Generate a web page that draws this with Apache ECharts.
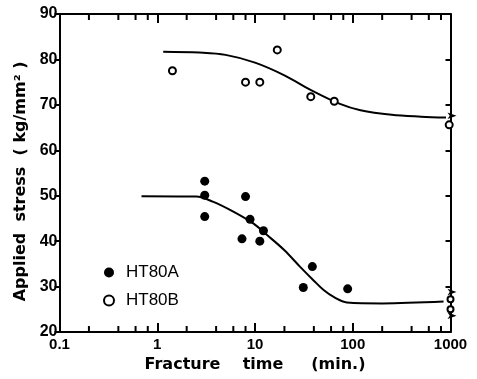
<!DOCTYPE html>
<html><head><meta charset="utf-8">
<script src="https://cdn.jsdelivr.net/npm/echarts@6/dist/echarts.min.js"></script>
<style>html,body{margin:0;padding:0;background:#fff}#c{width:477px;height:379px}</style>
</head><body><div id="c"></div>
<script>
// HT80A (filled circles): fracture time (min), applied stress (kg/mm2)
const ht80aTime   = [3.06, 3.06, 3.06, 8.0, 7.36, 8.9, 11.2, 12.2, 31.2, 38.6, 88.7];
const ht80aStress = [53.2, 50.1, 45.4, 49.8, 40.5, 44.8, 40.0, 42.3, 29.8, 34.4, 29.5];
// HT80B (open circles)
const ht80bTime   = [1.43, 8.0, 11.2, 16.9, 37.2, 64.7, 970];
const ht80bStress = [77.5, 75.0, 75.0, 82.1, 71.8, 70.8, 65.6];
// unbroken specimens at 1000 min (open circles) and their run-out arrows
const runTime     = [1000, 1000];
const runStress   = [27.2, 25.0];
const arrowTime   = [1000, 1000, 1000];
const arrowStress = [67.6, 28.8, 23.6];
// fitted curves
const curveATime   = [0.69, 2.5, 3.7, 6, 9.6, 13.2, 20, 28.8, 40, 50, 65, 87, 200, 850];
const curveAStress = [49.9, 49.8, 48.7, 46.5, 43.9, 41.4, 38.0, 34.4, 31.3, 29.3, 27.6, 26.5, 26.3, 26.7];
const curveBTime   = [1.15, 2.7, 5, 10, 20, 37, 74, 120, 250, 500, 900];
const curveBStress = [81.7, 81.5, 81.0, 79.3, 76.5, 73.3, 70.2, 68.8, 67.8, 67.4, 67.2];
// axis ticks
const xMajor = [0.1, 1, 10, 100, 1000];
const xMinor = [0.2, 0.4, 0.6, 0.8, 2, 4, 6, 8, 20, 40, 60, 80, 200, 400, 600, 800];
const yMin = 20, yMax = 90, yStep = 10;

const zip = (a, b) => a.map((v, i) => [v, b[i]]);
const FONT = 'Liberation Sans';
const NAMEFONT = 'DejaVu Sans';
const lineStyle = {color: '#000', width: 2};

function xAxisDef(pos, showLabel, name) {
  return {
    type: 'log', logBase: 10, min: xMajor[0], max: xMajor[xMajor.length - 1], position: pos,
    axisLine: {show: true, onZero: false, lineStyle: lineStyle},
    axisTick: {show: true, inside: true, length: 9, lineStyle: {color: '#000', width: 2}},
    axisLabel: {show: showLabel, color: '#000', fontFamily: FONT, fontWeight: 'bold', fontSize: 15, margin: 5,
      formatter: v => String(v)},
    splitLine: {show: false},
    name: name || '', nameLocation: 'middle', nameGap: 23,
    nameTextStyle: {color: '#000', fontFamily: NAMEFONT, fontWeight: 'bold', fontSize: 16}
  };
}

const minorTickSeries = (yv, dir) => ({
  name: 'minor' + yv, type: 'scatter', data: xMinor.map(x => [x, yv]), symbol: 'rect',
  symbolSize: [2, 6], symbolOffset: [0, dir * 3], clip: false,
  itemStyle: {color: '#000', opacity: 1}
});

const chart = echarts.init(document.getElementById('c'));
chart.setOption({
  animation: false,
  backgroundColor: '#fff',
  grid: {left: 59.5, right: 26.5, top: 14, bottom: 47, outerBoundsMode: 'none'},
  xAxis: [
    xAxisDef('bottom', true, 'Fracture    time     (min.)'),
    xAxisDef('top', false)
  ],
  yAxis: [
    {type: 'value', min: yMin, max: yMax, interval: yStep, position: 'left',
     axisLine: {show: true, onZero: false, lineStyle: lineStyle},
     axisTick: {show: true, inside: false, length: 5, lineStyle: {color: '#000', width: 2}},
     axisLabel: {color: '#000', fontFamily: FONT, fontWeight: 'bold', fontSize: 16, margin: 2},
     splitLine: {show: false},
     name: 'Applied  stress  ( kg/mm² )   ', nameLocation: 'middle', nameGap: 24, nameRotate: 90,
     nameTextStyle: {color: '#000', fontFamily: NAMEFONT, fontWeight: 'bold', fontSize: 16}},
    {type: 'value', min: yMin, max: yMax, interval: yStep, position: 'right',
     axisLine: {show: true, onZero: false, lineStyle: lineStyle},
     axisTick: {show: true, inside: true, length: 5, lineStyle: {color: '#000', width: 2}},
     axisLabel: {show: false}, splitLine: {show: false}}
  ],
  legend: {
    orient: 'vertical', left: 98, top: 259, itemGap: 11, itemWidth: 12, itemHeight: 10,
    data: ['HT80A', 'HT80B'],
    textStyle: {color: '#000', fontFamily: FONT, fontSize: 17, padding: [0, 0, 0, 6]}
  },
  series: [
    {name: 'curveA', type: 'line', data: zip(curveATime, curveAStress), smooth: 0.35, showSymbol: false,
     lineStyle: {color: '#000', width: 2}, z: 1},
    {name: 'curveB', type: 'line', data: zip(curveBTime, curveBStress), smooth: 0.35, showSymbol: false,
     lineStyle: {color: '#000', width: 2}, z: 1},
    {name: 'HT80A', type: 'scatter', data: zip(ht80aTime, ht80aStress), symbol: 'circle', symbolSize: 9,
     itemStyle: {color: '#000', opacity: 1}, z: 3},
    {name: 'HT80B', type: 'scatter', data: zip(ht80bTime, ht80bStress), symbol: 'circle', symbolSize: 7,
     itemStyle: {color: '#fff', borderColor: '#000', borderWidth: 2, opacity: 1}, z: 3},
    {name: 'runout', type: 'scatter', data: zip(runTime, runStress), symbol: 'circle', symbolSize: 6, clip: false,
     itemStyle: {color: '#fff', borderColor: '#000', borderWidth: 2, opacity: 1}, z: 3},
    {name: 'arrows', type: 'scatter', data: zip(arrowTime, arrowStress), symbol: 'arrow', symbolSize: [5, 9],
     symbolRotate: -90, symbolOffset: [6, 0], clip: false, silent: true,
     itemStyle: {color: '#000', opacity: 1}, z: 3},
    minorTickSeries(yMin, -1),
    minorTickSeries(yMax, 1)
  ]
});
</script></body></html>
